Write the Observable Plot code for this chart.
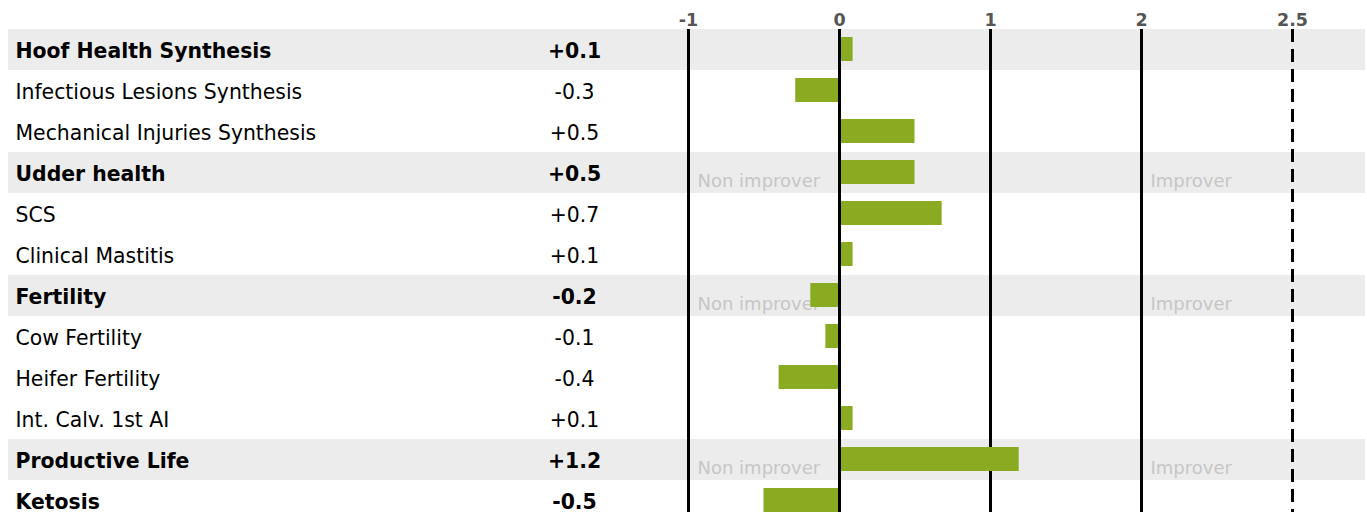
<!DOCTYPE html>
<html><head><meta charset="utf-8">
<script src="https://cdn.jsdelivr.net/npm/d3@7"></script>
<script src="https://cdn.jsdelivr.net/npm/@observablehq/plot@0.6"></script>
<style>html,body{margin:0;padding:0;background:#fff;overflow:hidden}</style>
</head><body><div id="chart"></div>
<script>
const traits = ["Hoof Health Synthesis","Infectious Lesions Synthesis","Mechanical Injuries Synthesis","Udder health","SCS","Clinical Mastitis","Fertility","Cow Fertility","Heifer Fertility","Int. Calv. 1st AI","Productive Life","Ketosis"];
const values = [0.09,-0.29,0.5,0.5,0.68,0.09,-0.19,-0.09,-0.4,0.09,1.19,-0.5];
const isGroup = [true,false,false,true,false,false,true,false,false,false,true,true];
const shaded = [true,false,false,true,false,false,true,false,false,false,true,false];
const annotated = [false,false,false,true,false,false,true,false,false,false,true,false];
const tickPositions = [-1,0,1,2,3];
const tickLabels = ["-1","0","1","2","2.5"];
const tickDashed = [false,false,false,false,true];
const zoneLabels = ["Non improver","Improver"];
const zonePositions = [-1,2];

const rows = traits.map((t,i)=>({trait:t, value:values[i], group:isGroup[i], shaded:shaded[i], annotated:annotated[i],
  label:(values[i]>0?"+":values[i]<0?"-":"")+Math.abs(values[i]).toFixed(1)}));
const ticks = tickPositions.map((p,i)=>({pos:p, label:tickLabels[i], dashed:tickDashed[i]}));
const zones = rows.filter(r=>r.annotated).flatMap(r=>zoneLabels.map((z,j)=>({trait:r.trait, text:z, pos:zonePositions[j]})));

const rowH = 41, topY = 29;
const chart = Plot.plot({
  width: 1367, height: 512,
  marginTop: topY, marginBottom: 0, marginLeft: 8, marginRight: 2,
  style: {fontFamily: "'DejaVu Sans', sans-serif", background: "#fff"},
  x: {domain: [-1,3], range: [688,1292], axis: null},
  y: {domain: traits, range: [topY, topY + rowH*traits.length], padding: 0, axis: null},
  marks: [
    Plot.cell(rows.filter(r=>r.shaded), {y: "trait", fill: "#ececec"}),
    Plot.text(zones, {x: "pos", y: "trait", text: "text", textAnchor: "start", dx: 9, dy: 8, fontSize: 18, fill: "#c6c6c6"}),
    Plot.ruleX(ticks.filter(t=>!t.dashed && t.pos!==0), {x: "pos", stroke: "#000", strokeWidth: 3}),
    Plot.ruleX(ticks.filter(t=>t.dashed), {x: "pos", stroke: "#000", strokeWidth: 3, strokeDasharray: "13,7"}),
    Plot.barX(rows, {x: "value", y: "trait", fill: "#8aaa22", insetTop: 8, insetBottom: 9}),
    Plot.ruleX(ticks.filter(t=>t.pos===0), {x: "pos", stroke: "#000", strokeWidth: 3}),
    Plot.text(ticks, {x: "pos", text: "label", frameAnchor: "top", lineAnchor: "middle", dy: -9, fontSize: 17.5, fontWeight: "bold", fill: "#555"}),
    Plot.text(rows.filter(r=>r.group), {y: "trait", text: "trait", frameAnchor: "left", textAnchor: "start", dx: 7, dy: 1, fontSize: 20.4, fontWeight: "bold", fill: "#000"}),
    Plot.text(rows.filter(r=>!r.group), {y: "trait", text: "trait", frameAnchor: "left", textAnchor: "start", dx: 7, dy: 1, fontSize: 20.4, fill: "#000"}),
    Plot.text(rows.filter(r=>r.group), {y: "trait", text: "label", frameAnchor: "left", textAnchor: "middle", dx: 566, dy: 1, fontSize: 20.4, fontWeight: "bold", fill: "#000"}),
    Plot.text(rows.filter(r=>!r.group), {y: "trait", text: "label", frameAnchor: "left", textAnchor: "middle", dx: 566, dy: 1, fontSize: 20.4, fill: "#000"})
  ]
});
document.getElementById("chart").appendChild(chart);
</script>
</body></html>
